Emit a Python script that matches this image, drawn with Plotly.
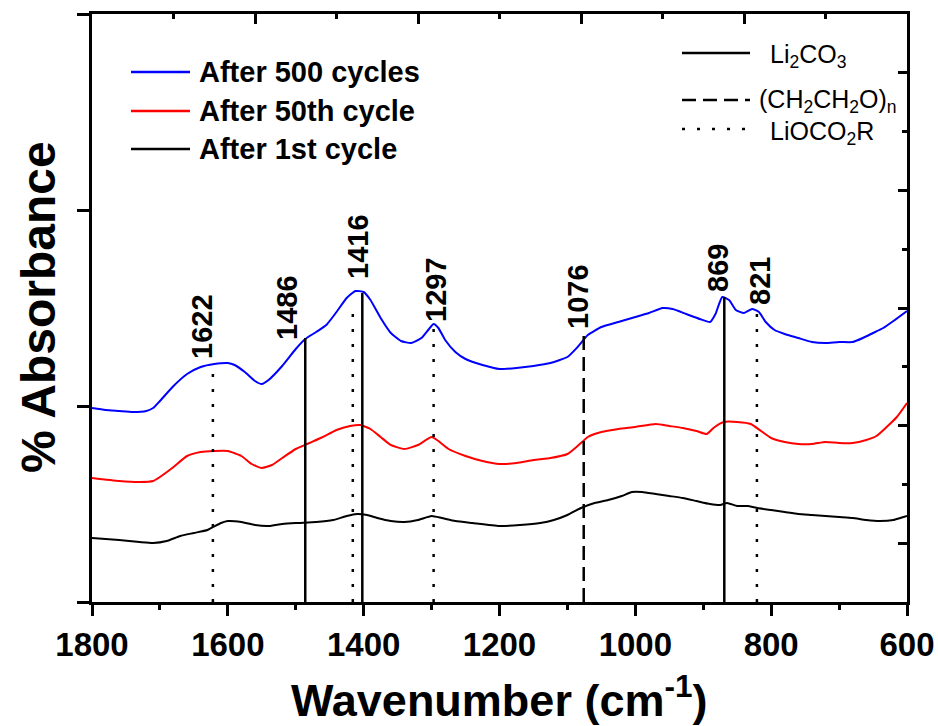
import plotly.graph_objects as go

# ---------------- data ----------------
# FTIR spectra (arbitrary absorbance units, curves offset vertically)
wn_500 = [1800, 1780, 1760, 1740, 1720, 1710, 1700, 1680, 1660, 1640, 1620, 1600, 1590, 1575,
          1560, 1550, 1540, 1520, 1500, 1486, 1470, 1455, 1440, 1425, 1412, 1400, 1390, 1375,
          1360, 1345, 1330, 1315, 1305, 1297, 1290, 1280, 1265, 1250, 1225, 1200, 1175, 1150,
          1125, 1100, 1085, 1070, 1050, 1025, 1000, 980, 960, 945, 925, 905, 890, 882, 872,
          862, 852, 840, 828, 818, 808, 795, 780, 760, 740, 720, 700, 680, 665, 650, 635, 620, 600]
ab_500 = [1.94, 1.92, 1.91, 1.90, 1.91, 1.94, 2.01, 2.16, 2.28, 2.35, 2.38, 2.39, 2.37, 2.30,
          2.21, 2.18, 2.22, 2.36, 2.53, 2.63, 2.70, 2.77, 2.90, 3.04, 3.11, 3.10, 3.02, 2.84,
          2.69, 2.61, 2.59, 2.64, 2.72, 2.78, 2.74, 2.62, 2.50, 2.43, 2.37, 2.33, 2.34, 2.36,
          2.39, 2.45, 2.55, 2.67, 2.75, 2.80, 2.85, 2.89, 2.94, 2.93, 2.88, 2.83, 2.80, 2.88, 3.05,
          3.02, 2.92, 2.89, 2.93, 2.90, 2.80, 2.72, 2.68, 2.64, 2.60, 2.59, 2.60, 2.60, 2.64, 2.69,
          2.74, 2.81, 2.91]

wn_50 = [1800, 1760, 1730, 1710, 1700, 1680, 1660, 1640, 1620, 1600, 1580, 1565, 1550, 1535,
         1520, 1500, 1480, 1460, 1440, 1420, 1405, 1390, 1375, 1360, 1340, 1320, 1300, 1290,
         1275, 1250, 1225, 1200, 1175, 1150, 1125, 1100, 1085, 1070, 1050, 1025, 1000, 970,
         950, 930, 910, 895, 885, 870, 850, 830, 815, 800, 780, 760, 740, 720, 700, 680, 660,
         645, 630, 615, 600]
ab_50 = [1.24, 1.21, 1.20, 1.21, 1.25, 1.35, 1.46, 1.50, 1.51, 1.51, 1.46, 1.38, 1.34, 1.37,
         1.44, 1.53, 1.59, 1.65, 1.72, 1.76, 1.77, 1.73, 1.65, 1.57, 1.53, 1.57, 1.65, 1.61,
         1.53, 1.46, 1.41, 1.38, 1.39, 1.42, 1.44, 1.48, 1.56, 1.65, 1.70, 1.73, 1.75, 1.78,
         1.76, 1.74, 1.71, 1.68, 1.74, 1.80, 1.80, 1.78, 1.71, 1.64, 1.60, 1.58, 1.58, 1.60,
         1.59, 1.59, 1.62, 1.66, 1.75, 1.85, 1.99]

wn_1 = [1800, 1760, 1730, 1710, 1690, 1670, 1650, 1630, 1610, 1600, 1580, 1560, 1540, 1520,
        1500, 1470, 1445, 1425, 1410, 1395, 1380, 1360, 1340, 1320, 1300, 1285, 1265, 1240,
        1200, 1170, 1140, 1120, 1100, 1080, 1060, 1040, 1020, 1005, 990, 970, 950, 930, 910,
        890, 875, 865, 850, 835, 820, 800, 780, 760, 740, 720, 700, 680, 660, 640, 620, 610, 600]
ab_1 = [0.64, 0.62, 0.60, 0.59, 0.61, 0.66, 0.69, 0.72, 0.79, 0.81, 0.80, 0.77, 0.76, 0.78,
        0.79, 0.80, 0.82, 0.86, 0.88, 0.87, 0.84, 0.81, 0.80, 0.82, 0.86, 0.84, 0.81, 0.79,
        0.76, 0.77, 0.79, 0.82, 0.87, 0.94, 0.99, 1.02, 1.06, 1.10, 1.10, 1.08, 1.06, 1.04, 1.01,
        0.98, 0.97, 0.99, 0.96, 0.96, 0.94, 0.92, 0.90, 0.88, 0.87, 0.86, 0.85, 0.84, 0.82, 0.81,
        0.82, 0.84, 0.86]

series_names = ["After 500 cycles", "After 50th cycle", "After 1st cycle"]
series_colors = ["#0000FF", "#FF0000", "#000000"]

# band assignments: position (cm-1), height of the marker line, species
band_wn = [1622, 1486, 1416, 1402, 1297, 1076, 869, 821]
band_top = [2.37, 2.64, 2.99, 3.09, 2.75, 2.69, 3.05, 2.90]
band_species = ["LiOCO2R", "Li2CO3", "LiOCO2R", "Li2CO3", "LiOCO2R", "(CH2CH2O)n", "Li2CO3", "LiOCO2R"]

# peak labels drawn above the marker lines
peak_text = ["1622", "1486", "1416", "1297", "1076", "869", "821"]

x_ticks = [1800, 1600, 1400, 1200, 1000, 800, 600]
x_minor = [1700, 1500, 1300, 1100, 900, 700]

# ---------------- styling ----------------
W, H = 938, 726
PL, PR, PT, PB = 92, 907, 14, 602          # plot-area edges in pixels
Y_MAX = 5.88

def fx(p):
    return (p - PL) / (PR - PL)

def fy(p):
    return (PB - p) / (PB - PT)

SANS = "Liberation Sans, Arial, sans-serif"

species_dash = {"Li2CO3": "solid", "(CH2CH2O)n": "14px,7px", "LiOCO2R": "3px,12px"}
species_label = {"Li2CO3": "Li<sub>2</sub>CO<sub>3</sub>",
                 "(CH2CH2O)n": "(CH<sub>2</sub>CH<sub>2</sub>O)<sub>n</sub>",
                 "LiOCO2R": "LiOCO<sub>2</sub>R"}

fig = go.Figure()

# spectra
for wn, ab, name, color in zip([wn_500, wn_50, wn_1], [ab_500, ab_50, ab_1],
                               series_names, series_colors):
    fig.add_trace(go.Scatter(x=wn, y=ab, mode="lines", name=name, showlegend=False,
                             line=dict(color=color, width=2, shape="spline", smoothing=0.5)))

# band marker lines
for w, top, sp in zip(band_wn, band_top, band_species):
    fig.add_trace(go.Scatter(x=[w, w], y=[0, top], mode="lines", showlegend=False,
                             hoverinfo="skip",
                             line=dict(color="black", width=2.5, dash=species_dash[sp])))

# mirror axes (top / right) carrying their own tick marks
fig.add_trace(go.Scatter(x=[None], y=[None], xaxis="x2", yaxis="y2", showlegend=False))

# peak labels (centre positions in pixels)
label_px = [(202, 327), (287, 308), (358, 247), (436, 290), (578, 297), (718, 268), (760, 281)]
for txt, (lx, ly) in zip(peak_text, label_px):
    fig.add_annotation(x=fx(lx), y=fy(ly), xref="paper", yref="paper", text=txt,
                       textangle=-90, showarrow=False, xanchor="center", yanchor="middle",
                       font=dict(family=SANS, size=29, color="black", weight="bold"))

# axis titles
fig.add_annotation(x=fx(499), y=fy(697), xref="paper", yref="paper",
                   text="Wavenumber (cm<sup>-1</sup>)", showarrow=False,
                   xanchor="center", yanchor="middle",
                   font=dict(family=SANS, size=45, color="black", weight="bold"))
fig.add_annotation(x=fx(38), y=fy(307), xref="paper", yref="paper",
                   text="% Absorbance", textangle=-90, showarrow=False,
                   xanchor="center", yanchor="middle",
                   font=dict(family=SANS, size=48, color="black", weight="bold"))

# legend for the spectra
leg_rows = [72, 111, 149]
for row, name, color in zip(leg_rows, series_names, series_colors):
    fig.add_shape(type="line", xref="paper", yref="paper", x0=fx(131), x1=fx(190),
                  y0=fy(row), y1=fy(row), line=dict(color=color, width=2.5))
    fig.add_annotation(x=fx(197), y=fy(row), xref="paper", yref="paper", text=name,
                       showarrow=False, xanchor="left", yanchor="middle",
                       font=dict(family=SANS, size=29, color="black", weight="bold"))

# legend for the band assignments
key_rows = [53, 100, 129]
key_species = ["Li2CO3", "(CH2CH2O)n", "LiOCO2R"]
key_text_x = [768, 757, 768]
key_text_y = [56, 101, 133]
for row, sp, tx, ty in zip(key_rows, key_species, key_text_x, key_text_y):
    fig.add_shape(type="line", xref="paper", yref="paper", x0=fx(682), x1=fx(750),
                  y0=fy(row), y1=fy(row),
                  line=dict(color="black", width=2.5, dash=species_dash[sp]))
    fig.add_annotation(x=fx(tx), y=fy(ty), xref="paper", yref="paper",
                       text=species_label[sp], showarrow=False,
                       xanchor="left", yanchor="middle",
                       font=dict(family=SANS, size=25, color="black"))

axis_common = dict(showgrid=False, zeroline=False, showline=True, linecolor="black",
                   linewidth=3, tickcolor="black", tickwidth=3, automargin=False)

fig.update_layout(
    width=W, height=H,
    margin=dict(l=PL, r=W - PR, t=PT, b=H - PB),
    paper_bgcolor="white", plot_bgcolor="white",
    showlegend=False,
    xaxis=dict(range=[1800, 600], tickmode="array", tickvals=x_ticks,
               ticktext=[str(v) for v in x_ticks], ticks="outside", ticklen=11,
               ticklabeloverflow="allow",
               minor=dict(tickmode="array", tickvals=x_minor, ticks="outside",
                          ticklen=5, tickwidth=3, tickcolor="black"),
               tickfont=dict(family=SANS, size=33, color="black", weight="bold"),
               **axis_common),
    yaxis=dict(range=[0, Y_MAX], tickmode="array", tickvals=[0, 1.96, 3.92, 5.88],
               showticklabels=False, ticks="outside", ticklen=12,
               **axis_common),
    xaxis2=dict(overlaying="x", side="top", range=[0, 10], tickmode="array",
                tickvals=[2, 4, 6, 8], ticks="inside", ticklen=10, showticklabels=False,
                minor=dict(tickmode="array", tickvals=[1, 3, 5, 7, 9], ticks="inside",
                           ticklen=5, tickwidth=3, tickcolor="black"),
                **axis_common),
    yaxis2=dict(overlaying="y", side="right", range=[0, 10], tickmode="array",
                tickvals=[1, 3, 5, 7, 9], ticks="inside", ticklen=9, showticklabels=False,
                minor=dict(tickmode="array", tickvals=[2, 4, 6, 8], ticks="inside",
                           ticklen=5, tickwidth=3, tickcolor="black"),
                **axis_common),
)

fig.write_html("out.html")
